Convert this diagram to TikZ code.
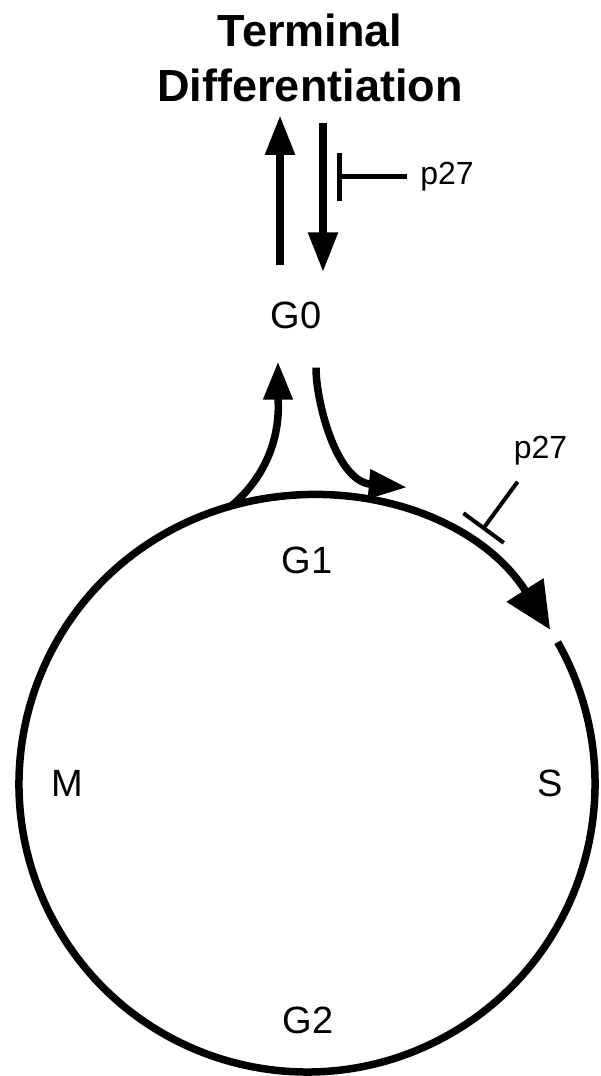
\documentclass[tikz,border=0pt]{standalone}
\usepackage{fontspec}
\setmainfont{Liberation Sans}
\usepackage{tikz}
\usetikzlibrary{arrows.meta,calc}

\begin{document}
\begin{tikzpicture}[
  x=1pt, y=1pt,
  phase/.style={font=\fontsize{38}{44}\selectfont, inner sep=3pt},
  heading/.style={font=\fontsize{45}{55}\selectfont\bfseries, align=center, inner sep=0pt},
  plab/.style={font=\fontsize{32}{38}\selectfont, inner sep=2pt},
  bigarr/.style={line width=8.5pt, -{Triangle[length=40pt, width=28pt]}},
  bendarr/.style={line width=7.5pt, -{Triangle[length=38pt, width=28pt]}},
  cyclearr/.style={line width=7.5pt, -{Triangle[length=47pt, width=42pt]}},
  inhib/.style={line width=5pt, -{Bar[width=48pt]}},
]
\useasboundingbox (0,0) rectangle (601,1076);
\coordinate (cc) at (307,292);
% labels
\node[heading, anchor=south] (TD) at (310,974) {Terminal\\Differentiation};
\node[phase] (G0) at (296,761) {G0};
\node[phase] (G1) at (307,516) {G1};
\node[phase] (S) at (550,293) {S};
\node[phase] (G2) at (308,56) {G2};
\node[phase] (M) at (67,293) {M};
\node[plab, inner xsep=13pt] (pa) at (447,899) {p27};
\node[plab] (pb) at ($(cc)+(55:407)$) {p27};
% G0 <-> terminal differentiation
\draw[bigarr, shorten <=33pt, shorten >=13pt] ([xshift=-16pt]G0.north) -- ([xshift=-16pt]G0.north |- TD.south);
\draw[bigarr, shorten <=21pt, shorten >=26pt] ([xshift=27pt]G0.north |- TD.south) -- ([xshift=27pt]G0.north);
\coordinate (b1) at (337,899);
\draw[inhib] (pa) -- (b1);
% the cycle
\draw[cyclearr] ($(cc)+(29.5:288)$) arc[start angle=29.5, end angle=-327.6, radius=288];
\coordinate (g1out) at ($(cc)+(105.3:288)$);
\coordinate (g1in) at ($(cc)+(71.4:313)$);
\draw[bendarr, shorten >=30pt] (g1out) to[out=40, in=-90] ([xshift=-18pt]G0.south);
\draw[bendarr, shorten <=36pt] ([xshift=20pt]G0.south) to[out=-90, in=175] (g1in);
\coordinate (b2) at ($(cc)+(55.4:309)$);
\draw[inhib, line width=4pt, -{Bar[width=50pt]}, shorten <=18pt] (pb) -- (b2);
\end{tikzpicture}
\end{document}
